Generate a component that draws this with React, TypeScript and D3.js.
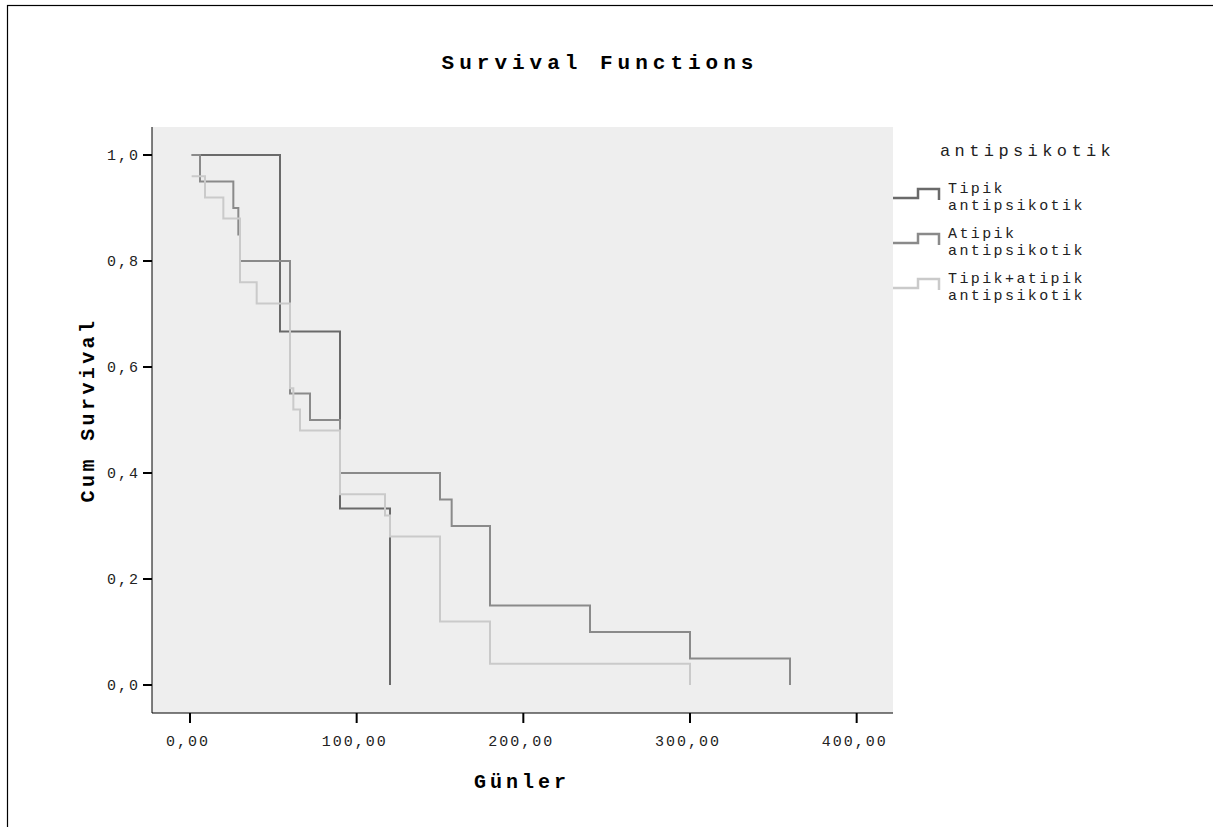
import React from "react";
import * as d3 from "d3";

const tipikTimes = [1, 54, 90, 120];
const tipikSurv = [1.0, 0.667, 0.333, 0];
const atipikTimes = [1, 6, 26, 29, 30, 60, 72, 90, 150, 157, 180, 240, 300, 360];
const atipikSurv = [1.0, 0.95, 0.9, 0.85, 0.8, 0.55, 0.5, 0.4, 0.35, 0.3, 0.15, 0.1, 0.05, 0];
const comboTimes = [1, 9, 20, 30, 40, 60, 62, 66, 90, 117, 120, 150, 180, 300];
const comboSurv = [0.96, 0.92, 0.88, 0.76, 0.72, 0.56, 0.52, 0.48, 0.36, 0.32, 0.28, 0.12, 0.04, 0];

const xTicks = [0, 100, 200, 300, 400];
const yTicks = [0, 0.2, 0.4, 0.6, 0.8, 1.0];

const seriesNames = [["Tipik", "antipsikotik"], ["Atipik", "antipsikotik"], ["Tipik+atipik", "antipsikotik"]];
const seriesColors = ["#6a6a6a", "#8a8a8a", "#cacaca"];

const W = 1213;
const H = 827;
const plot = { left: 152, right: 893, top: 127, bottom: 713 };
const FONT = "'Liberation Mono', 'DejaVu Sans Mono', monospace";

export default function App() {
  const x = d3.scaleLinear().domain([-22.8, 421.8]).range([plot.left, plot.right]);
  const y = d3.scaleLinear().domain([-0.0528, 1.0528]).range([plot.bottom, plot.top]);
  const line = d3
    .line<[number, number]>()
    .x((d) => x(d[0]))
    .y((d) => y(d[1]))
    .curve(d3.curveStepAfter);

  const series = [
    tipikTimes.map((t, i) => [t, tipikSurv[i]] as [number, number]),
    atipikTimes.map((t, i) => [t, atipikSurv[i]] as [number, number]),
    comboTimes.map((t, i) => [t, comboSurv[i]] as [number, number]),
  ];

  const fx = (v: number) => d3.format(".2f")(v).replace(".", ",");
  const fy = (v: number) => d3.format(".1f")(v).replace(".", ",");

  const legendBase = [193, 238, 283];

  return (
    <svg
      width={W}
      height={H}
      style={{ position: "absolute", left: 0, top: 0, background: "#fff" }}
      fontFamily={FONT}
    >
      <rect x={7.5} y={5.5} width={1230} height={900} fill="none" stroke="#000" strokeWidth={1.2} />
      <text
        x={600}
        y={69}
        textAnchor="middle"
        fontSize={21}
        fontWeight="bold"
        letterSpacing={5}
        fill="#000"
      >
        Survival Functions
      </text>

      <rect
        x={plot.left}
        y={plot.top}
        width={plot.right - plot.left}
        height={plot.bottom - plot.top}
        fill="#eeeeee"
      />

      {series.map((s, i) => (
        <path key={i} d={line(s) || ""} fill="none" stroke={seriesColors[i]} strokeWidth={2} />
      ))}

      <line x1={plot.left} x2={plot.right} y1={plot.bottom} y2={plot.bottom} stroke="#000" strokeWidth={1} />
      <line x1={plot.left} x2={plot.left} y1={plot.top} y2={plot.bottom} stroke="#000" strokeWidth={1} />

      {xTicks.map((t) => (
        <g key={t}>
          <line x1={x(t)} x2={x(t)} y1={plot.bottom} y2={plot.bottom + 10} stroke="#000" strokeWidth={2} />
          <text
            x={x(t) - 2}
            y={746}
            textAnchor="middle"
            fontSize={15}
            letterSpacing={2}
            fill="#222"
          >
            {fx(t)}
          </text>
        </g>
      ))}
      {yTicks.map((t) => (
        <g key={t}>
          <line x1={plot.left - 9} x2={plot.left} y1={y(t)} y2={y(t)} stroke="#000" strokeWidth={2} />
          <text
            x={140}
            y={y(t) + 5}
            textAnchor="end"
            fontSize={15}
            letterSpacing={2}
            fill="#222"
          >
            {fy(t)}
          </text>
        </g>
      ))}

      <text x={522} y={788} textAnchor="middle" fontSize={20} fontWeight="bold" letterSpacing={4} fill="#000">
        Günler
      </text>
      <text
        transform={`translate(94,${410}) rotate(-90)`}
        textAnchor="middle"
        fontSize={20}
        fontWeight="bold"
        letterSpacing={3.4}
        fill="#000"
      >
        Cum Survival
      </text>

      <text x={940} y={156} fontSize={17} letterSpacing={4.4} fill="#222">
        antipsikotik
      </text>
      {seriesNames.map((nm, i) => {
        const b = legendBase[i];
        return (
          <g key={i}>
            <path
              d={`M${plot.right},${b + 5} H918 V${b - 4} H939 V${b + 7}`}
              fill="none"
              stroke={seriesColors[i]}
              strokeWidth={2.5}
            />
            <text x={948} y={b} fontSize={15} letterSpacing={2.4} fill="#222">
              {nm[0]}
            </text>
            <text x={948} y={b + 17} fontSize={15} letterSpacing={2.4} fill="#222">
              {nm[1]}
            </text>
          </g>
        );
      })}
    </svg>
  );
}
